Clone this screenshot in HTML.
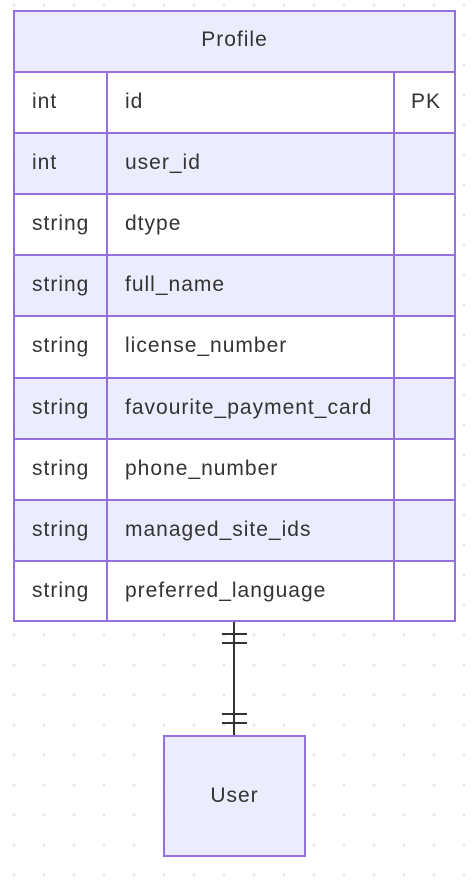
<!DOCTYPE html>
<html><head><style>
body{margin:0;width:475px;height:882px;overflow:hidden;background-color:#fff;
background-image:radial-gradient(circle,#e6e6e6 1.2px,transparent 1.8px);background-size:30px 30px;background-position:-1px -10px;
font-family:"Liberation Sans",sans-serif;font-size:21px;letter-spacing:1px;color:#333;position:relative}
.b{position:absolute;box-sizing:border-box}
.t{position:absolute;line-height:20px}
</style></head><body>
<div class="b" style="left:13px;top:10px;width:443px;height:612px;background:#9370db"></div>
<div class="b" style="left:15px;top:12px;width:439px;height:59px;background:#ececff"></div>
<div class="t" style="left:0;width:469px;text-align:center;top:30px">Profile</div>
<div id="rows"></div>
<div class="b" style="left:233px;top:622px;width:2px;height:114px;background:#333"></div>
<div class="b" style="left:222px;top:633px;width:25px;height:2px;background:#333"></div>
<div class="b" style="left:222px;top:642px;width:25px;height:2px;background:#333"></div>
<div class="b" style="left:222px;top:713px;width:25px;height:2px;background:#333"></div>
<div class="b" style="left:222px;top:722px;width:25px;height:2px;background:#333"></div>
<div class="b" style="left:163px;top:735px;width:143px;height:122px;border:2px solid #9370db;background:#ececff"></div>
<div class="t" style="left:163px;width:143px;text-align:center;top:786px">User</div>
<script>
var r=[["int","id","PK"],["int","user_id",""],["string","dtype",""],["string","full_name",""],["string","license_number",""],["string","favourite_payment_card",""],["string","phone_number",""],["string","managed_site_ids",""],["string","preferred_language",""]];
var h="";
r.forEach(function(x,i){var y=Math.round(71+i*61.1);
h+='<div class="b" style="left:15px;top:'+y+'px;width:439px;height:'+(i==8?549-y+71:62)+'px;border-top:2px solid #9370db;background:'+(i%2?'#ececff':'#fff')+'"></div>';
h+='<div class="t" style="left:32px;top:'+(y+21)+'px">'+x[0]+'</div>';
h+='<div class="t" style="left:125px;top:'+(y+21)+'px">'+x[1]+'</div>';
h+='<div class="t" style="left:411px;top:'+(y+21)+'px">'+x[2]+'</div>';});
h+='<div class="b" style="left:106px;top:71px;width:2px;height:549px;background:#9370db"></div>';
h+='<div class="b" style="left:393px;top:71px;width:2px;height:549px;background:#9370db"></div>';
document.getElementById("rows").innerHTML=h;
</script>
</body></html>
